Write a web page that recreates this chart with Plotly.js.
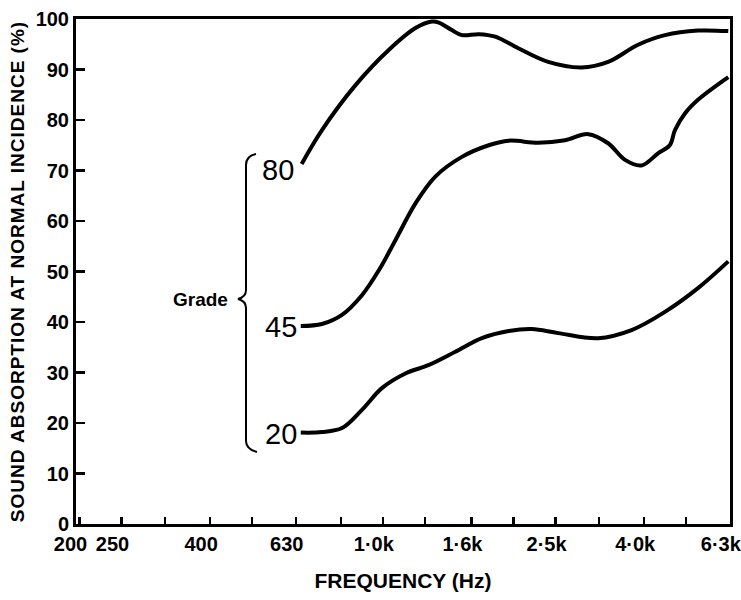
<!DOCTYPE html>
<html>
<head>
<meta charset="utf-8">
<script src="https://cdn.plot.ly/plotly-3.0.1.min.js"></script>
<style>
  html, body { margin: 0; padding: 0; background: #fff; }
  #chart { width: 741px; height: 600px; }
  .ytitle { letter-spacing: 1px; }
</style>
</head>
<body>
<div id="chart"></div>
<script>
// ---- Data ----
var tickFreqs = [200, 250, 315, 400, 500, 630, 800, 1000, 1250, 1600, 2000, 2500, 3150, 4000, 5000, 6300];
var tickLabels = ['200', '250', '', '400', '', '630', '', '1·0k', '', '1·6k', '', '2·5k', '', '4·0k', '', '6·3k'];
var yTicks = [0, 10, 20, 30, 40, 50, 60, 70, 80, 90, 100];

var grade80Freq = [650, 724, 865, 1033, 1189, 1297, 1346, 1442, 1521, 1664, 1816, 2051, 2404, 2871, 3304, 3873, 4467, 5322, 6250];
var grade80Vals = [71.3, 78.0, 86.9, 93.9, 98.2, 99.5, 99.3, 97.8, 96.8, 97.0, 96.5, 94.2, 91.5, 90.4, 91.5, 94.9, 96.8, 97.7, 97.6];

var grade45Freq = [647, 724, 805, 895, 980, 1069, 1189, 1321, 1521, 1754, 1950, 2280, 2630, 2972, 3304, 3614, 3945, 4306, 4582, 4710, 4966, 5322, 6250];
var grade45Vals = [39.2, 39.6, 41.4, 45.3, 50.3, 56.2, 63.5, 68.8, 72.7, 75.0, 75.9, 75.5, 76.0, 77.2, 75.4, 72.1, 71.0, 73.4, 75.0, 78.0, 81.3, 84.0, 88.5];

var grade20Freq = [647, 724, 805, 895, 995, 1127, 1277, 1469, 1691, 1950, 2204, 2535, 3133, 3742, 4467, 5322, 6250];
var grade20Vals = [18.1, 18.2, 19.0, 22.6, 26.9, 29.8, 31.5, 34.1, 36.8, 38.2, 38.6, 37.8, 36.8, 38.4, 42.0, 46.7, 52.0];

var gradeNames = ['80', '45', '20'];

// ---- Layout helpers (pixel -> paper) ----
var M = {l: 76, r: 11, t: 19, b: 76};
var W = 741, H = 600;
var PW = W - M.l - M.r, PH = H - M.t - M.b;
function px(x) { return (x - M.l) / PW; }
function py(y) { return (H - M.b - y) / PH; }

var FONT = '"Liberation Sans", Arial, Helvetica, sans-serif';

function curve(f, v, name) {
  return {
    x: f, y: v, name: name, type: 'scatter', mode: 'lines',
    line: {color: '#000', width: 4, shape: 'spline', smoothing: 1},
    hoverinfo: 'skip', showlegend: false
  };
}

var data = [
  curve(grade80Freq, grade80Vals, 'Grade 80'),
  curve(grade45Freq, grade45Vals, 'Grade 45'),
  curve(grade20Freq, grade20Vals, 'Grade 20')
];

// brace path (pixel points converted to paper coordinates)
function P(x, y) { return px(x).toFixed(5) + ',' + py(y).toFixed(5); }
var bracePath = 'M ' + P(256, 154) + ' Q ' + P(246, 156) + ' ' + P(246, 165) +
  ' L ' + P(246, 290) + ' Q ' + P(246, 297) + ' ' + P(238, 299) +
  ' Q ' + P(246, 301) + ' ' + P(246, 308) +
  ' L ' + P(246, 441) + ' Q ' + P(246, 449) + ' ' + P(257, 452);

var labelPos = [[278, 170], [281, 327], [281, 434]];
var annotations = gradeNames.map(function (g, i) {
  return {
    xref: 'paper', yref: 'paper', x: px(labelPos[i][0]), y: py(labelPos[i][1]),
    xanchor: 'center', yanchor: 'middle', showarrow: false, text: g,
    font: {family: FONT, size: 29, color: '#000'}
  };
});
annotations.push({
  xref: 'paper', yref: 'paper', x: px(200), y: py(299),
  xanchor: 'center', yanchor: 'middle', showarrow: false, text: 'Grade',
  font: {family: FONT, size: 19, color: '#000', weight: 'bold'}
});

var layout = {
  width: W, height: H,
  margin: M,
  paper_bgcolor: '#fff', plot_bgcolor: '#fff',
  font: {family: FONT, color: '#000'},
  showlegend: false,
  xaxis: {
    type: 'log',
    range: [Math.log10(200) - 0.008, Math.log10(6300) + 0.0005],
    tickmode: 'array', tickvals: tickFreqs, ticktext: tickLabels,
    ticks: 'inside', ticklen: 7, tickwidth: 2.5, tickcolor: '#000',
    ticklabelshift: -9, ticklabeloverflow: 'allow',
    showline: true, linewidth: 3, linecolor: '#000', mirror: true,
    showgrid: false, zeroline: false,
    tickfont: {family: FONT, size: 20, color: '#000', weight: 'bold'},
    title: {text: 'FREQUENCY (Hz)', font: {family: FONT, size: 21, color: '#000', weight: 'bold'}, standoff: 20}
  },
  yaxis: {
    range: [0, 100],
    tickmode: 'array', tickvals: yTicks,
    ticks: 'inside', ticklen: 9, tickwidth: 2.5, tickcolor: '#000',
    showline: true, linewidth: 3, linecolor: '#000', mirror: true,
    showgrid: false, zeroline: false,
    tickfont: {family: FONT, size: 20, color: '#000', weight: 'bold'},
    title: {text: 'SOUND ABSORPTION AT NORMAL INCIDENCE (%)', font: {family: FONT, size: 19, color: '#000', weight: 'bold'}, standoff: 6}
  },
  shapes: [{
    type: 'path', xref: 'paper', yref: 'paper', path: bracePath,
    line: {color: '#000', width: 2}
  }],
  annotations: annotations
};

Plotly.newPlot('chart', data, layout, {displayModeBar: false, staticPlot: true});
</script>
</body>
</html>
